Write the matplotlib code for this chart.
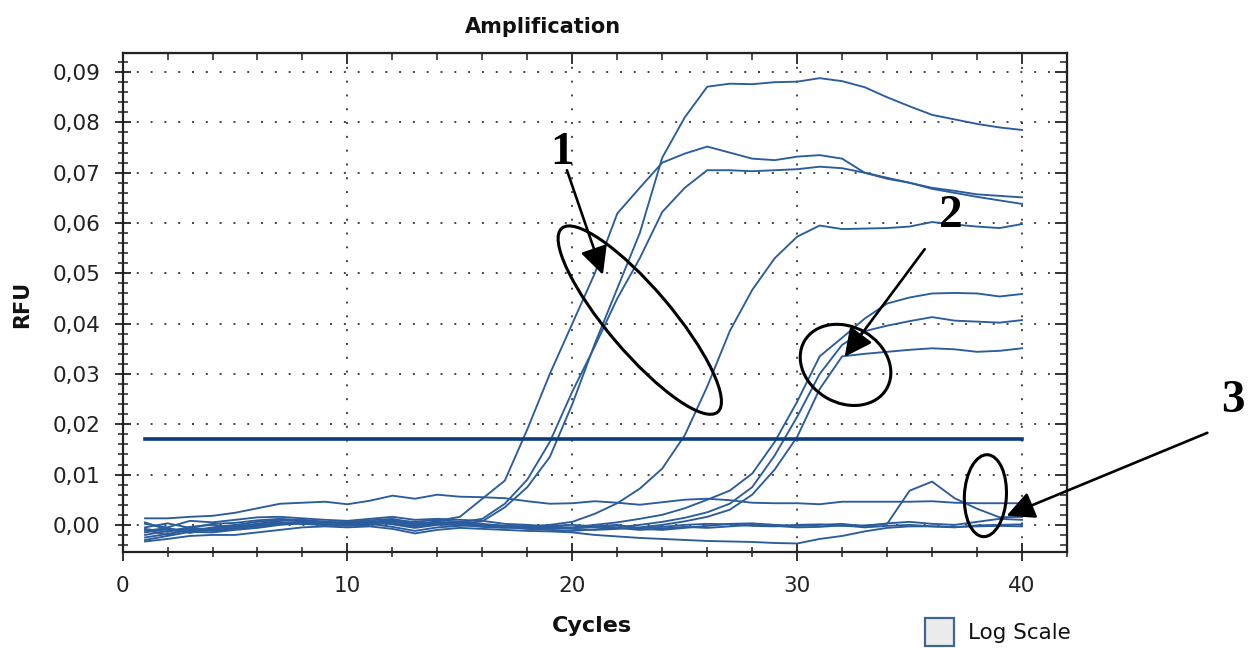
import numpy as np
import matplotlib
matplotlib.use("Agg")
import matplotlib.pyplot as plt
from matplotlib.patches import Ellipse, Rectangle
from matplotlib.ticker import MultipleLocator, FuncFormatter, NullFormatter
from matplotlib.transforms import ScaledTranslation

# qPCR amplification curves (RFU per cycle, cycles 1..40)
cycles = np.arange(1, 41)

# group 1: early amplification (Ct ~ 18-20)
curve_a = [-0.0010, -0.0020, -0.0008, -0.0012, -0.0008, -0.0004, 0.0002, 0.0004, 0.0003, 0.0002,
           0.0005, 0.0003, -0.0002, 0.0008, 0.0016, 0.0052, 0.0088, 0.0190, 0.0300, 0.0400,
           0.0500, 0.0619, 0.0670, 0.0720, 0.0738, 0.0752, 0.0740, 0.0728, 0.0725, 0.0732,
           0.0735, 0.0728, 0.0700, 0.0688, 0.0680, 0.0670, 0.0664, 0.0657, 0.0654, 0.0651]
curve_b = [-0.0015, -0.0008, -0.0012, -0.0005, 0.0000, 0.0006, 0.0010, 0.0008, 0.0005, 0.0006,
           0.0009, 0.0012, 0.0004, 0.0002, 0.0003, 0.0007, 0.0035, 0.0075, 0.0135, 0.0240,
           0.0360, 0.0470, 0.0580, 0.0730, 0.0810, 0.0871, 0.0877, 0.0876, 0.0880, 0.0881,
           0.0888, 0.0882, 0.0870, 0.0850, 0.0832, 0.0815, 0.0806, 0.0797, 0.0790, 0.0785]
curve_c = [0.0005, -0.0010, -0.0015, -0.0010, -0.0006, -0.0002, 0.0004, 0.0002, 0.0000, 0.0003,
           0.0001, 0.0006, 0.0002, 0.0003, 0.0005, 0.0012, 0.0042, 0.0090, 0.0165, 0.0265,
           0.0355, 0.0450, 0.0530, 0.0622, 0.0670, 0.0705, 0.0705, 0.0703, 0.0705, 0.0707,
           0.0712, 0.0709, 0.0700, 0.0690, 0.0680, 0.0668, 0.0660, 0.0652, 0.0645, 0.0638]
# Ct ~ 25
curve_d = [-0.0020, -0.0012, -0.0006, -0.0009, -0.0003, 0.0002, 0.0005, 0.0002, 0.0000, 0.0004,
           0.0006, 0.0001, -0.0006, 0.0000, 0.0000, -0.0003, -0.0005, -0.0003, 0.0000, 0.0006,
           0.0022, 0.0043, 0.0072, 0.0112, 0.0178, 0.0275, 0.0385, 0.0467, 0.0530, 0.0573,
           0.0595, 0.0588, 0.0589, 0.0590, 0.0593, 0.0602, 0.0597, 0.0593, 0.0590, 0.0598]
# group 2: late amplification (Ct ~ 29-30)
curve_e = [-0.0008, -0.0014, -0.0004, 0.0000, -0.0006, 0.0002, 0.0008, 0.0010, 0.0006, 0.0002,
           0.0004, 0.0009, 0.0006, 0.0010, 0.0006, 0.0002, -0.0002, -0.0004, -0.0006, -0.0005,
           0.0000, 0.0005, 0.0012, 0.0020, 0.0033, 0.0050, 0.0068, 0.0102, 0.0165, 0.0245,
           0.0335, 0.0372, 0.0410, 0.0440, 0.0452, 0.0460, 0.0461, 0.0460, 0.0454, 0.0459]
curve_f = [-0.0012, -0.0006, -0.0016, -0.0008, -0.0002, 0.0000, 0.0004, 0.0006, 0.0002, 0.0000,
           0.0003, 0.0007, 0.0000, 0.0004, 0.0000, -0.0004, -0.0006, -0.0005, -0.0008, -0.0006,
           -0.0004, -0.0005, 0.0000, 0.0006, 0.0014, 0.0025, 0.0042, 0.0075, 0.0138, 0.0215,
           0.0300, 0.0358, 0.0385, 0.0396, 0.0405, 0.0413, 0.0406, 0.0404, 0.0402, 0.0407]
curve_g = [-0.0030, -0.0022, -0.0014, -0.0015, -0.0010, -0.0006, 0.0000, 0.0003, 0.0001, -0.0002,
           0.0000, 0.0004, -0.0004, 0.0002, 0.0001, -0.0002, -0.0004, -0.0007, -0.0005, -0.0008,
           -0.0010, -0.0008, -0.0005, 0.0000, 0.0007, 0.0016, 0.0030, 0.0060, 0.0110, 0.0175,
           0.0270, 0.0335, 0.0340, 0.0344, 0.0348, 0.0351, 0.0349, 0.0344, 0.0346, 0.0351]
# non-amplified wells
flat_upper = [0.0013, 0.0013, 0.0016, 0.0018, 0.0024, 0.0033, 0.0042, 0.0044, 0.0046, 0.0041,
              0.0048, 0.0058, 0.0052, 0.0060, 0.0056, 0.0055, 0.0053, 0.0047, 0.0042, 0.0043,
              0.0047, 0.0044, 0.0040, 0.0045, 0.0050, 0.0052, 0.0049, 0.0044, 0.0043, 0.0043,
              0.0041, 0.0046, 0.0046, 0.0046, 0.0046, 0.0047, 0.0044, 0.0043, 0.0043, 0.0043]
flat_bump = [-0.0005, 0.0003, -0.0006, 0.0002, 0.0004, 0.0009, 0.0012, 0.0009, 0.0006, 0.0003,
             0.0006, 0.0010, 0.0002, 0.0006, 0.0004, 0.0000, -0.0002, -0.0003, -0.0002, 0.0000,
             -0.0003, -0.0001, -0.0006, -0.0004, 0.0000, 0.0002, 0.0001, -0.0002, -0.0003, 0.0000,
             0.0001, -0.0002, -0.0001, 0.0002, 0.0068, 0.0086, 0.0053, 0.0032, 0.0015, 0.0016]
flat_lower = [-0.0033, -0.0028, -0.0022, -0.0020, -0.0020, -0.0015, -0.0010, -0.0005, -0.0003, -0.0005,
              -0.0003, -0.0008, -0.0017, -0.0010, -0.0006, -0.0008, -0.0010, -0.0012, -0.0013, -0.0015,
              -0.0020, -0.0023, -0.0026, -0.0028, -0.0030, -0.0032, -0.0033, -0.0034, -0.0036, -0.0037,
              -0.0028, -0.0022, -0.0013, -0.0006, -0.0003, -0.0003, -0.0004, -0.0003, -0.0002, -0.0003]
flat_mid = [0.0002, -0.0005, 0.0008, 0.0005, 0.0010, 0.0015, 0.0016, 0.0013, 0.0010, 0.0008,
            0.0012, 0.0016, 0.0010, 0.0012, 0.0010, 0.0008, 0.0002, 0.0000, -0.0003, -0.0006,
            -0.0004, 0.0000, -0.0008, -0.0010, -0.0006, -0.0002, 0.0002, 0.0003, 0.0000, -0.0002,
            0.0000, 0.0002, -0.0003, 0.0003, 0.0006, 0.0002, 0.0000, 0.0006, 0.0012, 0.0010]
flat_low2 = [-0.0025, -0.0018, -0.0010, -0.0008, -0.0004, 0.0000, 0.0003, 0.0006, 0.0004, 0.0000,
             0.0002, -0.0004, -0.0012, -0.0005, -0.0002, 0.0000, -0.0004, -0.0008, -0.0010, -0.0012,
             -0.0009, -0.0006, -0.0010, -0.0007, -0.0004, -0.0006, -0.0003, 0.0000, -0.0002, -0.0005,
             -0.0004, -0.0001, -0.0005, -0.0002, 0.0000, -0.0003, -0.0005, -0.0001, 0.0000, 0.0001]

curves = [curve_a, curve_b, curve_c, curve_d, curve_e, curve_f, curve_g,
          flat_upper, flat_bump, flat_lower, flat_mid, flat_low2]
threshold = 0.0171

fig = plt.figure(figsize=(12.48, 6.48), dpi=100)
ax = fig.add_axes([0.0982, 0.1481, 0.7568, 0.7701])

for values in curves:
    ax.plot(cycles, values, color='#2b5c9c', lw=1.35, zorder=3)
ax.plot([cycles[0], cycles[-1]], [threshold, threshold], color='#0b3c7d', lw=2.6, zorder=4)

ax.set_xlim(0, 42)
ax.set_ylim(-0.0054, 0.0938)
ax.xaxis.set_major_locator(MultipleLocator(10))
ax.xaxis.set_minor_locator(MultipleLocator(2))
ax.yaxis.set_major_locator(MultipleLocator(0.01))
ax.yaxis.set_minor_locator(MultipleLocator(0.002))


def comma_fmt(v, pos):
    if abs(v) < 1e-9:
        v = 0.0
    return f"{v:.2f}".replace('.', ',')


ax.yaxis.set_major_formatter(FuncFormatter(comma_fmt))
ax.grid(True, which='major', color='#444444', linestyle=(0, (1, 6.1)), linewidth=1.4)

ax.tick_params(axis='both', which='major', direction='inout', width=1.3, labelsize=15.5,
               colors='#222222', labelcolor='#222222')
ax.tick_params(axis='y', which='major', length=12, pad=10)
ax.tick_params(axis='x', which='major', length=13, pad=11)
ax.tick_params(axis='both', which='minor', direction='inout', length=7, width=1.1, colors='#222222')
for sp in ax.spines.values():
    sp.set_linewidth(1.6)
    sp.set_color('#222222')

secx = ax.secondary_xaxis('top')
secx.xaxis.set_major_locator(MultipleLocator(10))
secx.xaxis.set_minor_locator(MultipleLocator(2))
secx.xaxis.set_major_formatter(NullFormatter())
secx.tick_params(which='major', direction='in', length=8, width=1.3, colors='#222222')
secx.tick_params(which='minor', direction='in', length=5, width=1.1, colors='#222222')
secy = ax.secondary_yaxis('right')
secy.yaxis.set_major_locator(MultipleLocator(0.01))
secy.yaxis.set_minor_locator(MultipleLocator(0.002))
secy.yaxis.set_major_formatter(NullFormatter())
secy.tick_params(which='major', direction='in', length=9, width=1.3, colors='#222222')
secy.tick_params(which='minor', direction='in', length=5, width=1.1, colors='#222222')

fig.text(543 / 1248, 1 - 27 / 648, 'Amplification', ha='center', va='center',
         fontsize=15, fontweight='bold', color='#111111')
fig.text(592 / 1248, 1 - 626 / 648, 'Cycles', ha='center', va='center',
         fontsize=16, fontweight='bold', color='#111111')
fig.text(22 / 1248, 1 - 304 / 648, 'RFU', ha='center', va='center', rotation=90,
         fontsize=15, fontweight='bold', color='#111111')

# "Log Scale" checkbox
fig.patches.append(Rectangle((925 / 1248, 2 / 648), 29 / 1248, 28 / 648, transform=fig.transFigure,
                             facecolor='#ececec', edgecolor='#3f6591', lw=1.6))
fig.text(968 / 1248, 1 - 633 / 648, 'Log Scale', ha='left', va='center', fontsize=15.5, color='#111111')


# annotation ellipses (sizes in inches, centred on data points)
def ellipse_at(x, y, w, h, angle):
    tr = fig.dpi_scale_trans + ScaledTranslation(x, y, ax.transData)
    ax.add_artist(Ellipse((0, 0), w, h, angle=angle, transform=tr, fill=False,
                          edgecolor='black', lw=2.2, clip_on=False, zorder=6))


ellipse_at(23.0, 0.0407, 2.41, 0.64, -49.7)
ellipse_at(32.15, 0.0318, 0.95, 0.76, -30)
ellipse_at(38.37, 0.0058, 0.42, 0.82, -3)

arrow_kw = dict(arrowstyle='-|>,head_length=0.85,head_width=0.42', color='black', lw=1.9,
                shrinkA=0, shrinkB=0, mutation_scale=20)
labels = [('1', (19.53, 0.0739), (19.76, 0.0705), (21.36, 0.0497)),
          ('2', (36.82, 0.0614), (35.67, 0.0548), (32.11, 0.0334)),
          ('3', (49.36, 0.0246), (48.24, 0.0183), (39.31, 0.0018))]
for txt, pos, start, tip in labels:
    ax.annotate('', xy=tip, xytext=start, arrowprops=arrow_kw, annotation_clip=False, zorder=7)
    ax.text(pos[0], pos[1], txt, ha='center', va='center', fontsize=34, fontweight='bold',
            family='Liberation Serif', clip_on=False, zorder=7)

fig.savefig('out.png', dpi=100)
